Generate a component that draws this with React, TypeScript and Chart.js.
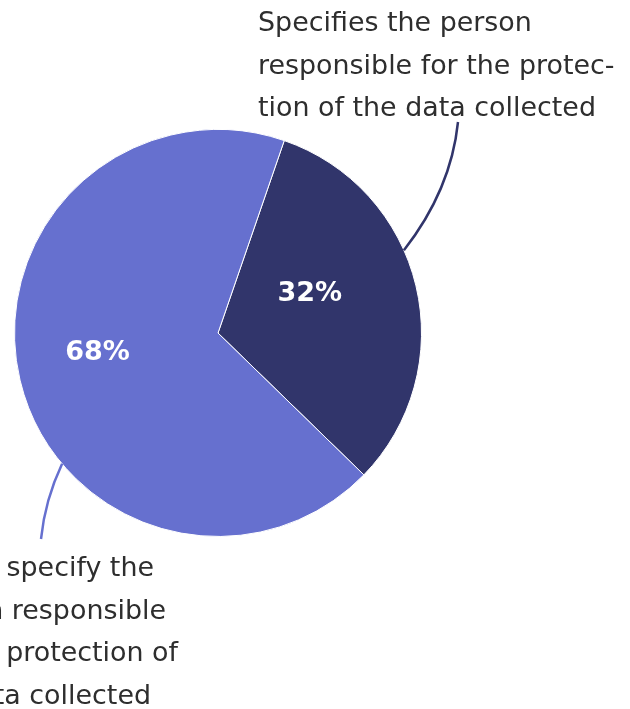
import React, { useEffect, useRef } from "react";
import { Chart, registerables } from "chart.js";

Chart.register(...registerables);

const categories = [
  "Specifies the person responsible for the protection of the data collected",
  "Does not specify the person responsible for the protection of the data collected",
];
const values = [32, 68];
const sliceColors = ["#31356b", "#6670cf"];
const percentLabels = ["32%", "68%"];
const calloutLines = [
  ["Specifies the person", "responsible for the protec-", "tion of the data collected"],
  ["Does not specify the", "person responsible", "for the protection of", "the data collected"],
];

const FONT = '"DejaVu Sans", sans-serif';

const calloutPlugin = {
  id: "callouts",
  afterDatasetsDraw(chart: any) {
    const ctx = chart.ctx;
    const meta = chart.getDatasetMeta(0);
    ctx.save();
    ctx.font = `24px ${FONT}`;
    const w = ctx.measureText(calloutLines[0][0]).width;
    const fs = Math.max(16, Math.min(28, (24 * 274) / w));
    ctx.restore();

    const pctCfg = [
      { dAng: -9.6, frac: 0.49 },
      { dAng: 3.9, frac: 0.6 },
    ];
    const leaderCfg = [
      { edgeAngDeg: 66, ctrl: [451, 190], end: [458, 122] },
      { edgeAngDeg: 230, ctrl: [45, 500], end: [41, 539] },
    ];
    const textCfg = [
      { align: "left", x: [258, 258, 258], baseline0: 31, step: 42.5 },
      { align: "right", x: [154, 166, 178, 151], baseline0: 576, step: 42.5 },
    ];

    meta.data.forEach((arc: any, i: number) => {
      const p = arc.getProps(["x", "y", "startAngle", "endAngle", "outerRadius"], true);
      const mid = (p.startAngle + p.endAngle) / 2 + (pctCfg[i].dAng * Math.PI) / 180;
      const r = p.outerRadius * pctCfg[i].frac;
      ctx.save();
      ctx.fillStyle = "#ffffff";
      ctx.font = `bold 27px ${FONT}`;
      ctx.textAlign = "center";
      ctx.textBaseline = "middle";
      ctx.fillText(percentLabels[i], p.x + r * Math.cos(mid), p.y + r * Math.sin(mid));
      ctx.restore();

      const lc = leaderCfg[i];
      const a = ((lc.edgeAngDeg - 90) * Math.PI) / 180;
      const sx = p.x + p.outerRadius * Math.cos(a);
      const sy = p.y + p.outerRadius * Math.sin(a);
      ctx.save();
      ctx.strokeStyle = sliceColors[i];
      ctx.lineWidth = 2.5;
      ctx.beginPath();
      ctx.moveTo(sx, sy);
      ctx.quadraticCurveTo(lc.ctrl[0], lc.ctrl[1], lc.end[0], lc.end[1]);
      ctx.stroke();
      ctx.restore();

      const tc = textCfg[i];
      ctx.save();
      ctx.fillStyle = "#2e2e2e";
      ctx.font = `${fs}px ${FONT}`;
      ctx.textAlign = tc.align;
      ctx.textBaseline = "alphabetic";
      calloutLines[i].forEach((line, j) => {
        ctx.fillText(line, tc.x[j], tc.baseline0 + j * tc.step);
      });
      ctx.restore();
    });
  },
};

export default function App() {
  const ref = useRef<HTMLCanvasElement>(null);
  useEffect(() => {
    if (!ref.current) return;
    const chart = new Chart(ref.current, {
      type: "pie",
      data: {
        labels: categories,
        datasets: [
          {
            data: values,
            backgroundColor: sliceColors,
            borderColor: "#ffffff",
            borderWidth: 1,
          },
        ],
      },
      options: {
        responsive: false,
        animation: false,
        rotation: 19,
        layout: { padding: { left: 14, top: 129, right: 208, bottom: 172 } },
        plugins: {
          legend: { display: false },
          tooltip: { enabled: false },
        },
      },
      plugins: [calloutPlugin],
    });
    return () => chart.destroy();
  }, []);
  return (
    <div style={{ position: "absolute", left: 0, top: 0, width: 630, height: 709, background: "#fff" }}>
      <canvas ref={ref} width={630} height={709} />
    </div>
  );
}
